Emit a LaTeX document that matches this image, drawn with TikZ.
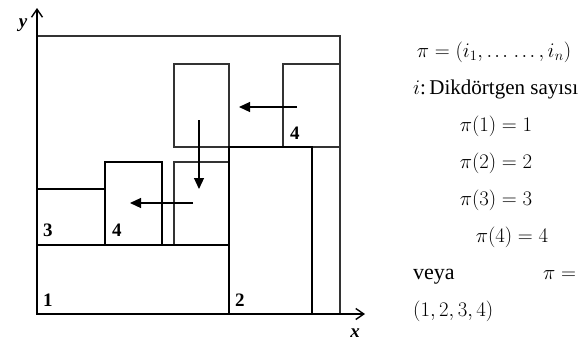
\documentclass[tikz,border=0pt]{standalone}
\usepackage{fontspec}
\setmainfont{Liberation Serif}
\usetikzlibrary{arrows.meta}
\begin{document}
\begin{tikzpicture}[x=1pt,y=-1pt,
  thickbox/.style={draw=black,line width=2.7pt},
  thinbox/.style={draw=black!80,line width=1.3pt},
  axis/.style={draw=black,line width=1.6pt,-{Straight Barb[length=8pt,width=11pt,line width=1.4pt]}},
  move/.style={draw=black,line width=1.2pt,-{Triangle[length=11pt,width=10pt]}},
  num/.style={font=\fontsize{19}{19}\selectfont\bfseries,anchor=south west,inner sep=0pt},
  axlab/.style={font=\fontsize{19}{19}\selectfont\bfseries\itshape,inner sep=0pt},
  txtc/.style={font=\fontsize{22}{26}\selectfont,inner sep=0pt,anchor=base},
  txtl/.style={font=\fontsize{22}{26}\selectfont,inner sep=0pt,anchor=base west}]
\useasboundingbox (0,0) rectangle (587,343);
% container
\draw[thinbox] (37,36) -- (340,36) -- (340,314);
% thin intermediate rectangles
\draw[thinbox] (283,64) rectangle (340,147);
\draw[thinbox] (174,64) rectangle (229,147);
\draw[thinbox] (174,162) rectangle (229,245);
% thick placed rectangles
\draw[thickbox] (37,245) rectangle (229,314);
\draw[thickbox] (229,147) rectangle (312,314);
\draw[thickbox] (37,189) rectangle (105,245);
\draw[thickbox] (105,162) rectangle (162,245);
% axes
\coordinate (o) at (37,314);
\coordinate (xe) at (365,314);
\coordinate (ye) at (37,8);
\draw[axis] (o) -- (xe);
\draw[axis] (o) -- (ye);
\node[axlab] (ylab) at (23,25) {y};
\node[axlab] (xlab) at (355,333) {x};
% movement arrows
\coordinate (a1s) at (297,107); \coordinate (a1e) at (239,107);
\coordinate (a2s) at (199,120); \coordinate (a2e) at (199,189);
\coordinate (a3s) at (193,203); \coordinate (a3e) at (130,203);
\draw[move] (a1s) -- (a1e);
\draw[move] (a2s) -- (a2e);
\draw[move] (a3s) -- (a3e);
% labels
\node[num] (n4a) at (290,140) {4};
\node[num] (n3) at (43,237) {3};
\node[num] (n4b) at (112,237) {4};
\node[num] (n1) at (43,307) {1};
\node[num] (n2) at (235,307) {2};
% right text
\node[txtc] (t1) at (494,57) {$\pi = (i_1, {.}\mkern2mu{.}\mkern2mu{.}\;{.}\mkern2mu{.}\mkern2mu{.}\,, i_n)$};
\node[txtl,font=\fontsize{21}{26}\selectfont] (t2) at (413,94) {$i$:\,Dikdörtgen sayısı};
\node[txtc] (t3) at (496,131) {$\pi(1) = 1$};
\node[txtc] (t4) at (496,168) {$\pi(2) = 2$};
\node[txtc] (t5) at (496,205) {$\pi(3) = 3$};
\node[txtc] (t6) at (512,242) {$\pi(4) = 4$};
\node[txtl] (t7) at (413,279) {veya};
\node[txtl] (t8) at (543,279) {$\pi =$};
\node[txtl] (t9) at (413,316) {$(1, 2, 3, 4)$};
\end{tikzpicture}
\end{document}
